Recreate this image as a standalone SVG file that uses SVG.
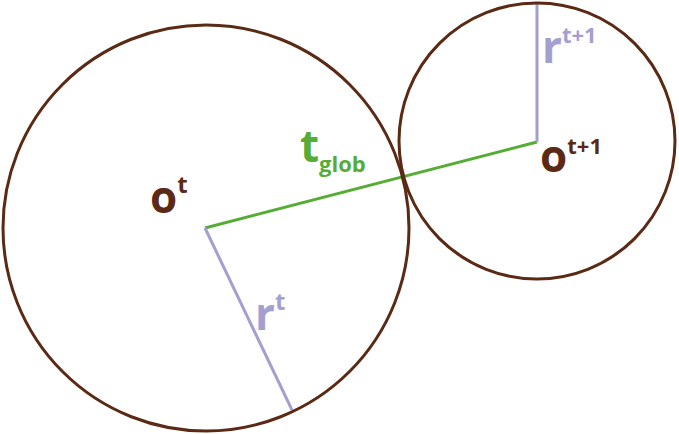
<svg xmlns="http://www.w3.org/2000/svg" width="679" height="434" viewBox="0 0 679 434">
<style>
.c{fill:none;stroke:#5a2a14;stroke-width:3}
.p{stroke:#a39fcf;stroke-width:3}
.g{stroke:#55ad35;stroke-width:3}
text{font-family:"Open Sans","DejaVu Sans",sans-serif;font-weight:bold}
.br{fill:#5a2a14}.pu{fill:#a39fcf}.gr{fill:#55ad35}
</style>
<rect width="679" height="434" fill="#fff"/>
<g id="connectors">
<line class="g" x1="205" y1="228" x2="537" y2="142"/>
<line class="p" x1="205" y1="228" x2="292" y2="410"/>
<line class="p" x1="537" y1="142" x2="537" y2="3"/>
</g>
<g id="node-ot">
<circle class="c" cx="206" cy="228" r="203"/>
<text class="br" x="150" y="213" font-size="44">o<tspan font-size="24" dy="-20">t</tspan></text>
<text class="pu" x="255" y="330" font-size="44">r<tspan font-size="24" dy="-20">t</tspan></text>
</g>
<g id="node-ot1">
<circle class="c" cx="537" cy="141" r="138"/>
<text class="br" x="540" y="172" font-size="44">o<tspan font-size="22" dy="-18">t+1</tspan></text>
<text class="pu" x="542" y="63" font-size="44">r<tspan font-size="22" dy="-20">t+1</tspan></text>
</g>
<g id="label-tglob">
<text class="gr" x="300" y="162" font-size="44">t<tspan font-size="22" dy="10">glob</tspan></text>
</g>
</svg>
